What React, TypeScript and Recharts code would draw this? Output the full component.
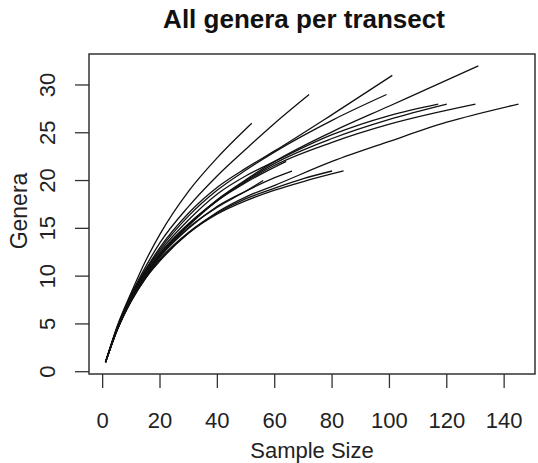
import React from "react";
import { LineChart, Line, XAxis, YAxis, ReferenceArea } from "recharts";

// rarefaction curves, one per transect: sample size -> expected genera
const tA_n = [1, 5, 10, 15, 20, 30, 40, 52];
const tA_g = [1, 4.7, 8.3, 11.6, 14.4, 18.9, 22.4, 26];
const tB_n = [1, 5, 10, 15, 20, 30, 40, 50, 60, 72];
const tB_g = [1, 4.6, 8.1, 11.0, 13.5, 17.3, 20.5, 23.3, 26.0, 29];
const tC_n = [1, 5, 10, 15, 20, 30, 40, 50, 60, 80, 101];
const tC_g = [1, 4.5, 8.0, 10.7, 13.0, 16.6, 19.3, 21.3, 23.1, 26.9, 31];
const tD_n = [1, 5, 10, 15, 20, 30, 40, 50, 60, 80, 99];
const tD_g = [1, 4.5, 8.0, 10.6, 12.8, 16.3, 19.0, 21.1, 23.0, 26.3, 29];
const tE_n = [1, 5, 10, 15, 20, 30, 40, 50, 60, 80, 100, 120, 131];
const tE_g = [1, 4.4, 7.7, 10.2, 12.3, 15.4, 18.0, 20.1, 22.0, 25.1, 27.8, 30.5, 32];
const tF_n = [1, 5, 10, 15, 20, 30, 40, 50, 60, 80, 100, 117];
const tF_g = [1, 4.5, 7.9, 10.5, 12.6, 15.9, 18.6, 20.5, 22.0, 24.8, 26.8, 28];
const tG_n = [1, 5, 10, 15, 20, 30, 40, 50, 60, 80, 100, 120];
const tG_g = [1, 4.4, 7.7, 10.2, 12.3, 15.4, 18.0, 20.0, 21.8, 24.4, 26.4, 28];
const tH_n = [1, 5, 10, 15, 20, 30, 40, 50, 60, 80, 100, 130];
const tH_g = [1, 4.4, 7.7, 10.2, 12.2, 15.3, 17.9, 19.9, 21.6, 24.0, 25.9, 28];
const tI_n = [1, 5, 10, 15, 20, 30, 40, 50, 60, 80, 100, 120, 145];
const tI_g = [1, 4.3, 7.4, 9.8, 11.6, 14.5, 16.7, 18.3, 19.5, 22.0, 24.1, 26.1, 28];
const tJ_n = [1, 5, 10, 15, 20, 30, 40, 50, 60, 70, 84];
const tJ_g = [1, 4.3, 7.4, 9.8, 11.7, 14.5, 16.5, 17.9, 19.0, 19.9, 21];
const tK_n = [1, 5, 10, 15, 20, 30, 40, 50, 60, 70, 80];
const tK_g = [1, 4.3, 7.5, 9.9, 11.8, 14.6, 16.6, 18.1, 19.2, 20.2, 21];
const tL_n = [1, 5, 10, 15, 20, 30, 40, 50, 60, 66];
const tL_g = [1, 4.4, 7.6, 10.0, 12.0, 15.0, 17.3, 18.9, 20.3, 21];
const tM_n = [1, 5, 10, 15, 20, 30, 40, 50, 64];
const tM_g = [1, 4.5, 7.8, 10.4, 12.4, 15.5, 17.9, 19.8, 22];
const tN_n = [1, 5, 10, 15, 20, 30, 40, 50, 56];
const tN_g = [1, 4.4, 7.6, 10.0, 12.1, 15.1, 17.2, 18.9, 20];

const transects = [
  [tA_n, tA_g], [tB_n, tB_g], [tC_n, tC_g], [tD_n, tD_g], [tE_n, tE_g],
  [tF_n, tF_g], [tG_n, tG_g], [tH_n, tH_g], [tI_n, tI_g], [tJ_n, tJ_g],
  [tK_n, tK_g], [tL_n, tL_g], [tM_n, tM_g], [tN_n, tN_g],
];

const xTicks = [0, 20, 40, 60, 80, 100, 120, 140];
const yTicks = [0, 5, 10, 15, 20, 25, 30];
const xDomain = [-4.76, 150.76];
const yDomain = [-0.24, 33.24];

const FONT = '"Liberation Sans", Arial, sans-serif';
const INK = "#222";

const XTick = (p: any) => (
  <text x={p.x} y={420} textAnchor="middle" dominantBaseline="central"
    fontFamily={FONT} fontSize={22} fill={INK}>{p.payload.value}</text>
);

const YTick = (p: any) => (
  <text x={48} y={p.y} textAnchor="middle" dominantBaseline="central"
    transform={`rotate(-90 48 ${p.y})`} fontFamily={FONT} fontSize={22} fill={INK}>
    {p.payload.value}
  </text>
);

export default function App() {
  const series = transects.map(([ns, gs]) => ns.map((n, i) => ({ n, g: gs[i] })));
  return (
    <div style={{ position: "absolute", left: 0, top: 0, width: 538, height: 463, background: "#fff" }}>
      <div style={{ position: "absolute", left: 0, top: 6, width: 608, textAlign: "center",
        fontFamily: FONT, fontWeight: "bold", fontSize: 26, lineHeight: "26px", color: "#111" }}>
        All genera per transect
      </div>
      <div style={{ position: "absolute", left: 19, top: 211, transform: "translate(-50%, -50%) rotate(-90deg)",
        fontFamily: FONT, fontSize: 23, color: INK, whiteSpace: "nowrap" }}>
        Genera
      </div>
      <div style={{ position: "absolute", left: 312, top: 451, transform: "translate(-50%, -50%)",
        fontFamily: FONT, fontSize: 22, color: INK, whiteSpace: "nowrap" }}>
        Sample Size
      </div>
      <LineChart width={538} height={463} margin={{ top: 54, right: 3, left: 0, bottom: 0 }}>
        <XAxis type="number" dataKey="n" domain={xDomain} allowDataOverflow ticks={xTicks}
          height={89} axisLine={false} tickSize={14} tickLine={{ stroke: "#333", strokeWidth: 1.3 }}
          tick={XTick} interval={0} />
        <YAxis type="number" dataKey="g" domain={yDomain} allowDataOverflow ticks={yTicks}
          width={89} axisLine={false} tickSize={14} tickLine={{ stroke: "#333", strokeWidth: 1.3 }}
          tick={YTick} interval={0} />
        <ReferenceArea x1={xDomain[0]} x2={xDomain[1]} y1={yDomain[0]} y2={yDomain[1]}
          fill="none" stroke="#333" strokeWidth={1.5} fillOpacity={0} />
        {series.map((d, i) => (
          <Line key={i} data={d} dataKey="g" type="monotone" stroke="#111" strokeWidth={1.3}
            dot={false} isAnimationActive={false} />
        ))}
      </LineChart>
    </div>
  );
}
